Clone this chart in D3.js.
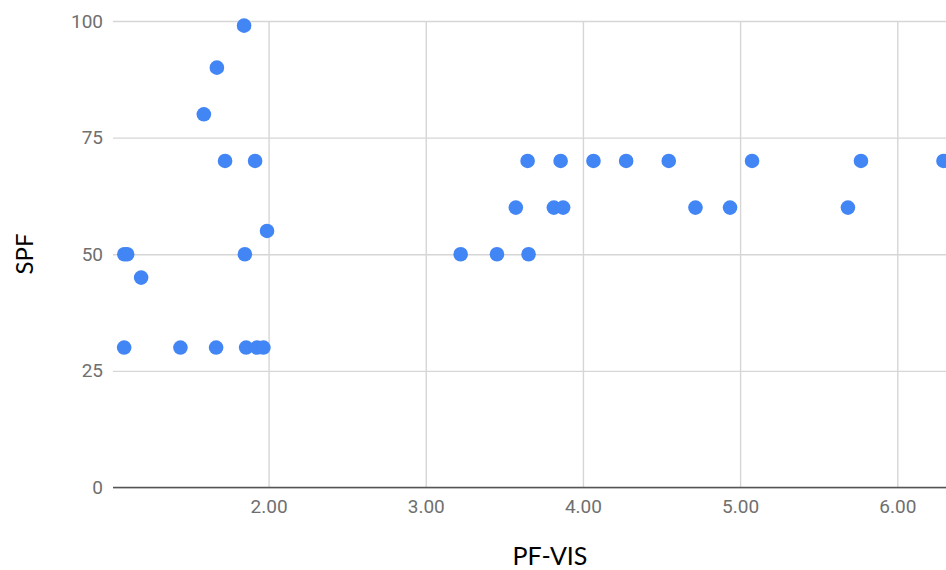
<!DOCTYPE html>
<html>
<head>
<meta charset="utf-8">
<script src="https://cdn.jsdelivr.net/npm/d3@7"></script>
<style>
  html, body { margin: 0; padding: 0; background: #fff; }
  svg { display: block; }
</style>
</head>
<body>
<svg id="chart" width="946" height="570"></svg>
<script>
// ---- data ----
const pfVis = [
  1.844, 1.671, 1.588, 1.723, 1.914, 1.99, 1.849, 1.082, 1.1, 1.189,
  1.081, 1.439, 1.666, 1.857, 1.927, 1.967,
  3.648, 3.858, 4.067, 4.275, 4.546, 5.076, 5.769, 6.294,
  3.573, 3.815, 3.874, 4.716, 4.936, 5.686,
  3.222, 3.453, 3.654
];
const spf = [
  99, 90, 80, 70, 70, 55, 50, 50, 50, 45,
  30, 30, 30, 30, 30, 30,
  70, 70, 70, 70, 70, 70, 70, 70,
  60, 60, 60, 60, 60, 60,
  50, 50, 50
];
const xTicks = [2, 3, 4, 5, 6];
const yTicks = [0, 25, 50, 75, 100];
const xTitle = "PF-VIS";
const yTitle = "SPF";

// ---- chart ----
const svg = d3.select("#chart");
const x = d3.scaleLinear().domain([1.01, 6.31]).range([113, 946]);
const y = d3.scaleLinear().domain([0, 100]).range([487.5, 21]);

// horizontal gridlines + y labels
const yAxis = svg.append("g")
  .attr("transform", `translate(113,0)`)
  .call(d3.axisLeft(y).tickValues(yTicks).tickSize(-833).tickPadding(10).tickFormat(d3.format("d")));
yAxis.select(".domain").remove();
yAxis.selectAll(".tick line").attr("stroke", "#d6d6d6").attr("stroke-width", 1.4);
yAxis.selectAll(".tick text")
  .attr("fill", "#6f6f6f").attr("font-family", "Roboto, sans-serif").attr("font-size", 19);

// vertical gridlines + x labels
const xAxis = svg.append("g")
  .attr("transform", `translate(0,487.5)`)
  .call(d3.axisBottom(x).tickValues(xTicks).tickSize(-466.5).tickPadding(12).tickFormat(d3.format(".2f")));
xAxis.select(".domain").remove();
xAxis.selectAll(".tick line").attr("stroke", "#d6d6d6").attr("stroke-width", 1.4);
xAxis.selectAll(".tick text")
  .attr("fill", "#6f6f6f").attr("font-family", "Roboto, sans-serif").attr("font-size", 19);

// baseline
svg.append("line")
  .attr("x1", x.range()[0]).attr("x2", x.range()[1])
  .attr("y1", y(0)).attr("y2", y(0))
  .attr("stroke", "#555").attr("stroke-width", 1.6);

// points
svg.append("g").selectAll("circle")
  .data(pfVis.map((v, i) => [v, spf[i]]))
  .join("circle")
  .attr("cx", d => x(d[0]))
  .attr("cy", d => y(d[1]))
  .attr("r", 7.3)
  .attr("fill", "#4285F4");

// titles
svg.append("text")
  .attr("x", 550).attr("y", 565)
  .attr("text-anchor", "middle")
  .attr("font-family", "Lato, sans-serif").attr("font-size", 25)
  .attr("fill", "#000")
  .text(xTitle);

svg.append("text")
  .attr("transform", "translate(33,254) rotate(-90)")
  .attr("text-anchor", "middle")
  .attr("font-family", "Lato, sans-serif").attr("font-size", 24)
  .attr("fill", "#000")
  .text(yTitle);
</script>
</body>
</html>
